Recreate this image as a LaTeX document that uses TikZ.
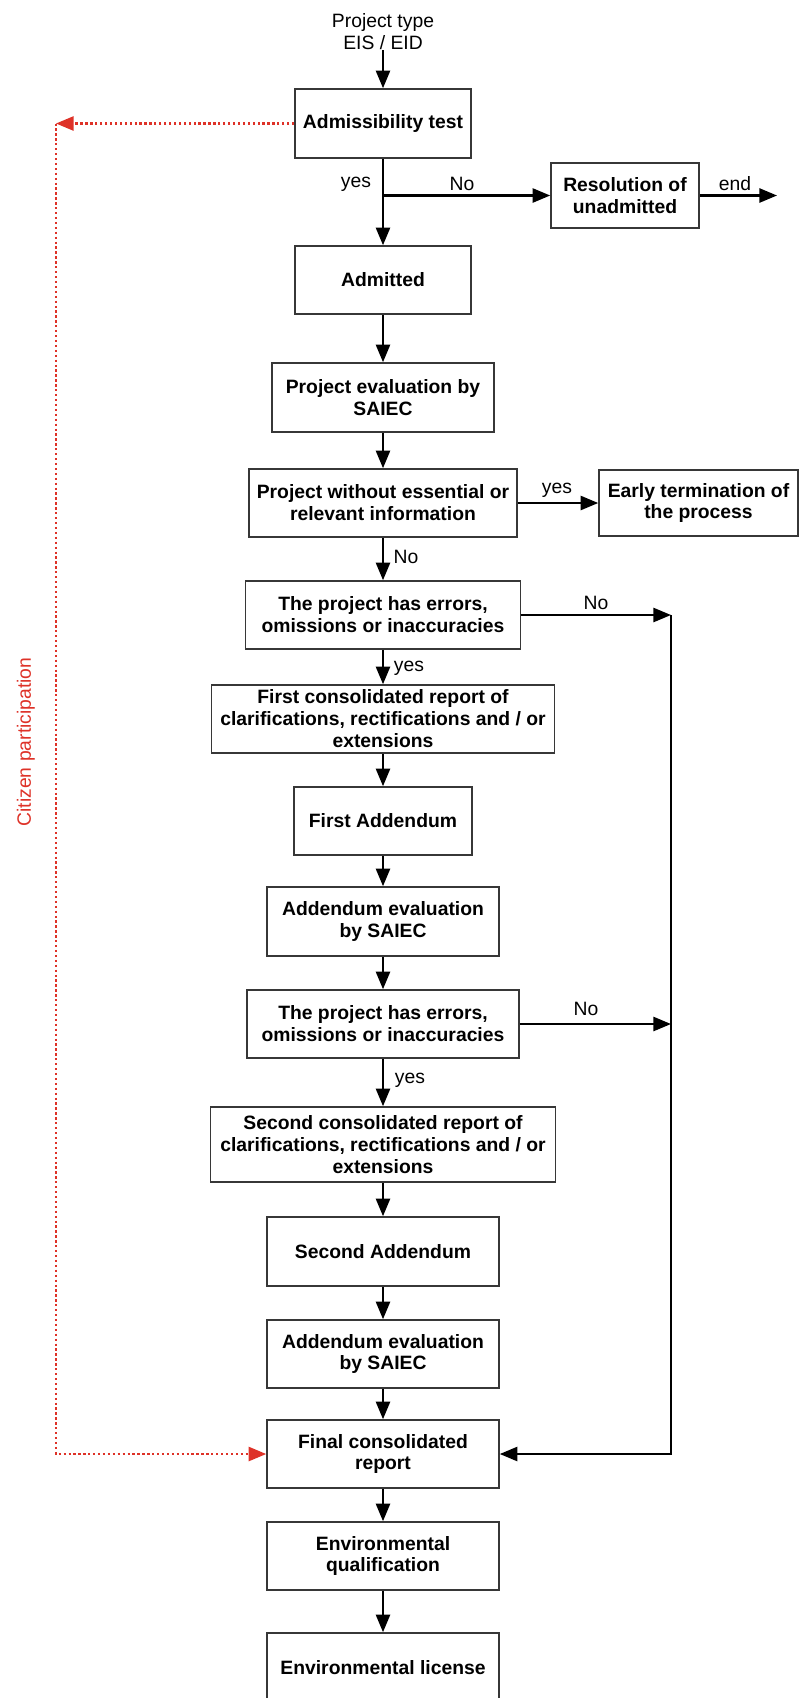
\documentclass[tikz,border=0pt]{standalone}
\usepackage{fontspec}
\setmainfont{Liberation Sans}
\usetikzlibrary{arrows.meta}
\definecolor{CIT-RED}{RGB}{222, 50, 40}
\definecolor{BOX-GRAY}{RGB}{55, 55, 55}

\begin{document}
\begin{tikzpicture}[x=0.02cm, y=-0.02cm,
  box/.style={draw=BOX-GRAY, line width=0.9pt, align=center, inner sep=0pt,
    font=\fontsize{11}{12.5}\selectfont\bfseries},
  lbl/.style={font=\fontsize{11}{12.5}\selectfont, inner sep=0pt, align=center},
  flow/.style={-{Triangle[length=10pt,width=8pt]}, line width=1.3pt},
  citizen/.style={CIT-RED, line width=1.3pt, dash pattern=on 1.3pt off 1.5pt}]
  \clip (0,0) rectangle (801,1698);

  % Start and admissibility
  \node[lbl] (src) at (383,32) {Project type\\EIS / EID};
  \node[box, minimum width=3.52cm, minimum height=1.38cm] (adm) at (383,123.5) {Admissibility test};
  \node[box, minimum width=2.96cm, minimum height=1.30cm] (res) at (625,195.5) {Resolution of\\unadmitted};
  \node[box, minimum width=3.52cm, minimum height=1.36cm] (admitted) at (383,280) {Admitted};
  \coordinate (fork) at (383,195.5);
  \coordinate (endpt) at (777,195.5);

  % Evaluation
  \node[box, minimum width=4.44cm, minimum height=1.38cm] (evalp) at (383,397.5) {Project evaluation by\\SAIEC};
  \node[box, minimum width=5.36cm, minimum height=1.36cm] (noinfo) at (383,503) {Project without essential or\\relevant information};
  \node[box, minimum width=3.98cm, minimum height=1.32cm] (early) at (698.5,503) {Early termination of\\the process};
  \node[box, minimum width=5.50cm, minimum height=1.36cm] (err1) at (383,615) {The project has errors,\\omissions or inaccuracies};

  % First round
  \node[box, minimum width=6.86cm, minimum height=1.36cm] (rep1) at (383,719) {First consolidated report of\\clarifications, rectifications and / or\\extensions};
  \node[box, minimum width=3.56cm, minimum height=1.36cm] (add1) at (383,821) {First Addendum};
  \node[box, minimum width=4.64cm, minimum height=1.38cm] (evala1) at (383,921.5) {Addendum evaluation\\by SAIEC};
  \node[box, minimum width=5.44cm, minimum height=1.36cm] (err2) at (383,1024) {The project has errors,\\omissions or inaccuracies};

  % Second round
  \node[box, minimum width=6.90cm, minimum height=1.50cm] (rep2) at (383,1144.5) {Second consolidated report of\\clarifications, rectifications and / or\\extensions};
  \node[box, minimum width=4.64cm, minimum height=1.38cm] (add2) at (383,1251.5) {Second Addendum};
  \node[box, minimum width=4.64cm, minimum height=1.36cm] (evala2) at (383,1354) {Addendum evaluation\\by SAIEC};

  % Closing
  \node[box, minimum width=4.64cm, minimum height=1.36cm] (final) at (383,1454) {Final consolidated\\report};
  \node[box, minimum width=4.64cm, minimum height=1.36cm] (envq) at (383,1556) {Environmental\\qualification};
  \node[box, minimum width=4.64cm, minimum height=1.40cm] (envl) at (383,1668) {Environmental license};

  % Main flow
  \draw[flow] (src) -- (adm);
  \draw[line width=1.3pt] (adm) -- (fork);
  \draw[flow] (fork) -- (admitted);
  \draw[flow] (fork) -- (res);
  \draw[flow] (res) -- (endpt);
  \draw[flow] (admitted) -- (evalp);
  \draw[flow] (evalp) -- (noinfo);
  \draw[flow] (noinfo) -- (early);
  \draw[flow] (noinfo) -- (err1);
  \draw[flow] (err1) -- (rep1);
  \draw[flow] (rep1) -- (add1);
  \draw[flow] (add1) -- (evala1);
  \draw[flow] (evala1) -- (err2);
  \draw[flow] (err2) -- (rep2);
  \draw[flow] (rep2) -- (add2);
  \draw[flow] (add2) -- (evala2);
  \draw[flow] (evala2) -- (final);
  \draw[flow] (final) -- (envq);
  \draw[flow] (envq) -- (envl);

  % Shortcut to the final report
  \coordinate (rtop) at (671,615);
  \coordinate (rbot) at (671,1454);
  \draw[flow] (err1) -- (rtop);
  \draw[flow] (err2) -- (err2 -| rtop);
  \draw[flow] (rtop) -- (rbot) -- (final);

  % Citizen participation
  \coordinate (ctop) at (56,123.5);
  \coordinate (cbot) at (56,1454);
  \draw[citizen, -{Triangle[length=10pt,width=8pt]}] (adm) -- (ctop);
  \draw[citizen, -{Triangle[length=10pt,width=8pt]}] (ctop) -- (cbot) -- (final);
  \node[lbl, CIT-RED, rotate=90] (cit) at (26,742) {Citizen participation};

  % Branch labels
  \node[lbl] (l1) at (356,184) {yes};
  \node[lbl] (l2) at (462,184) {No};
  \node[lbl] (l3) at (735,184) {end};
  \node[lbl] (l4) at (557,490) {yes};
  \node[lbl] (l5) at (406,557) {No};
  \node[lbl] (l6) at (596,603) {No};
  \node[lbl] (l7) at (409,668) {yes};
  \node[lbl] (l8) at (586,1009) {No};
  \node[lbl] (l9) at (410,1080) {yes};
\end{tikzpicture}
\end{document}
